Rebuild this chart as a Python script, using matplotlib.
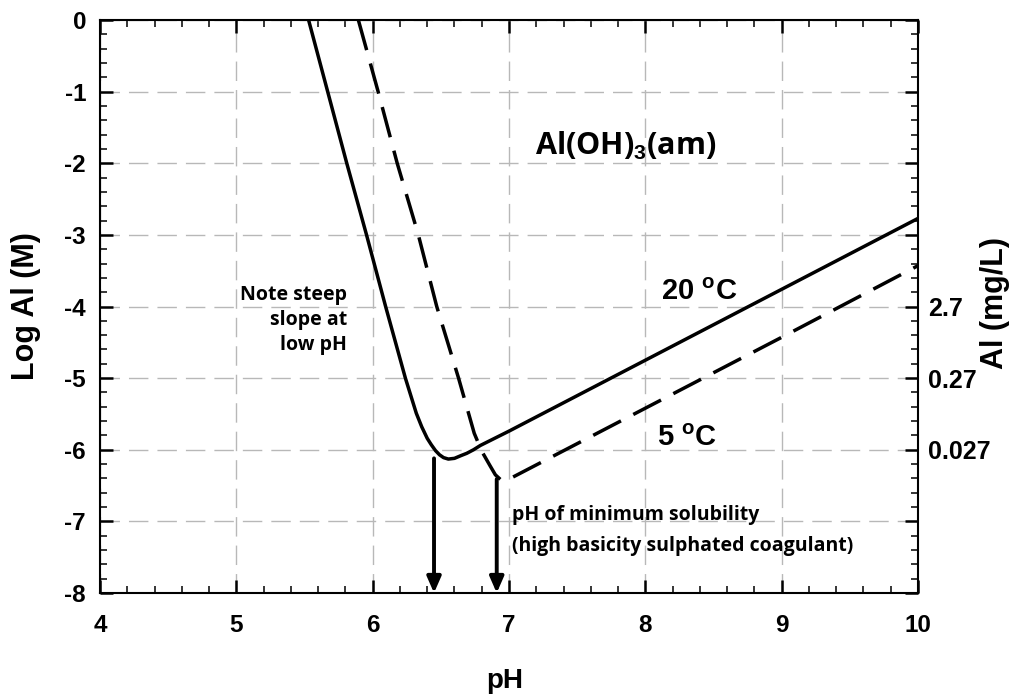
import matplotlib
matplotlib.use("Agg")
import matplotlib.pyplot as plt
from matplotlib.ticker import MultipleLocator

plt.rcParams['mathtext.fontset'] = 'custom'
plt.rcParams['mathtext.rm'] = 'Liberation Sans:bold'
plt.rcParams['mathtext.it'] = 'Liberation Sans:bold'
plt.rcParams['mathtext.bf'] = 'Liberation Sans:bold'
plt.rcParams['axes.unicode_minus'] = False

# ---- data ----
ph_20 = [5.53, 5.67, 5.81, 5.955, 6.095, 6.24, 6.32, 6.36, 6.40, 6.43, 6.46, 6.49, 6.52,
         6.555, 6.60, 6.65, 6.69, 6.74, 6.79, 7.0, 8.0, 9.0, 10.0]
log_20 = [0.0, -1.0, -2.0, -3.0, -4.0, -5.0, -5.49, -5.68, -5.84, -5.93, -6.01, -6.07, -6.11,
          -6.13, -6.12, -6.08, -6.05, -6.00, -5.94, -5.74, -4.75, -3.76, -2.77]

ph_5 = [5.895, 6.04, 6.18, 6.335, 6.47, 6.63, 6.745, 6.80, 6.86, 6.90, 6.94, 6.97, 7.0,
        8.0, 9.0, 10.0]
log_5 = [0.0, -1.0, -2.0, -3.0, -4.0, -5.0, -5.77, -6.02, -6.22, -6.35, -6.42, -6.43, -6.41,
         -5.42, -4.43, -3.43]

arrow_ph = [6.45, 6.91]
arrow_top = [-6.12, -6.41]

x_ticks = [4, 5, 6, 7, 8, 9, 10]
y_ticks = [0, -1, -2, -3, -4, -5, -6, -7, -8]
right_ticks = [-4, -5, -6]
right_labels = ['2.7', '0.27', '0.027']

TICKFONT = 'Liberation Sans'
NOTEFONT = 'Open Sans'

fig = plt.figure(figsize=(10.11, 6.95), dpi=100)
ax = fig.add_axes([100 / 1011, 1 - 593 / 695, 818 / 1011, 573 / 695])

ax.set_xlim(4, 10)
ax.set_ylim(-8, 0)

# grid
ax.set_axisbelow(True)
ax.grid(True, which='major', color='#b8b8b8', lw=1.0, dashes=(14, 6.5))

# curves
ax.plot(ph_20, log_20, color='black', lw=2.5, solid_joinstyle='round', zorder=3)
ax.plot(ph_5, log_5, color='black', lw=2.5, dashes=(9, 4), zorder=3)

# arrows
for xp, yt in zip(arrow_ph, arrow_top):
    ax.annotate('', xy=(xp, -8.0), xytext=(xp, yt),
                arrowprops=dict(arrowstyle='-|>,head_length=0.8,head_width=0.35',
                                mutation_scale=12, lw=2.8, color='black',
                                shrinkA=0, shrinkB=0),
                annotation_clip=False, zorder=4)

# ticks
ax.set_xticks(x_ticks)
ax.set_yticks(y_ticks)
ax.xaxis.set_minor_locator(MultipleLocator(0.2))
ax.yaxis.set_minor_locator(MultipleLocator(0.2))
ax.tick_params(which='both', direction='in', top=True, right=True)
ax.tick_params(which='major', length=9.5, width=1.8)
ax.tick_params(which='minor', length=5, width=1.1)
ax.tick_params(axis='x', which='major', pad=15)
ax.tick_params(axis='y', which='major', pad=10)
for lab in ax.get_xticklabels() + ax.get_yticklabels():
    lab.set_fontfamily(TICKFONT)
    lab.set_fontweight('bold')
    lab.set_fontsize(17.5)
for sp in ax.spines.values():
    sp.set_linewidth(1.5)

# right-side labels
sec = ax.secondary_yaxis('right')
sec.set_yticks(right_ticks)
sec.set_yticklabels(right_labels)
sec.tick_params(length=0, pad=7)
sec.spines['right'].set_visible(False)
for lab in sec.get_yticklabels():
    lab.set_fontfamily(TICKFONT)
    lab.set_fontweight('bold')
    lab.set_fontsize(18)

# axis labels
fig.text(505 / 1011, 1 - 688 / 695, 'pH', ha='center', va='baseline',
         fontfamily=TICKFONT, fontweight='bold', fontsize=20)
fig.text(26 / 1011, 1 - 306 / 695, 'Log Al (M)', ha='center', va='center', rotation=90,
         fontfamily=TICKFONT, fontweight='bold', fontsize=22)
fig.text(995 / 1011, 1 - 303 / 695, 'Al (mg/L)', ha='center', va='center', rotation=90,
         fontfamily=TICKFONT, fontweight='bold', fontsize=22)

# annotations
ax.text(7.19, -1.885, r'Al(OH)$_3$(am)', ha='left', va='baseline',
        fontfamily=NOTEFONT, fontweight='bold', fontsize=22)
ax.text(8.116, -3.91, r'20 $^{\mathrm{o}}$C', ha='left', va='baseline',
        fontfamily=TICKFONT, fontweight='bold', fontsize=21)
ax.text(8.084, -5.95, r'5 $^{\mathrm{o}}$C', ha='left', va='baseline',
        fontfamily=TICKFONT, fontweight='bold', fontsize=21)
ax.text(5.81, -4.19, 'Note steep\nslope at\nlow pH', ha='right', va='center',
        multialignment='right', linespacing=1.35,
        fontfamily=NOTEFONT, fontweight='bold', fontsize=14)
ax.text(7.02, -7.13, 'pH of minimum solubility\n(high basicity sulphated coagulant)',
        ha='left', va='center', multialignment='left', linespacing=1.7,
        fontfamily=NOTEFONT, fontweight='bold', fontsize=14)

fig.savefig('out.png', dpi=100)
